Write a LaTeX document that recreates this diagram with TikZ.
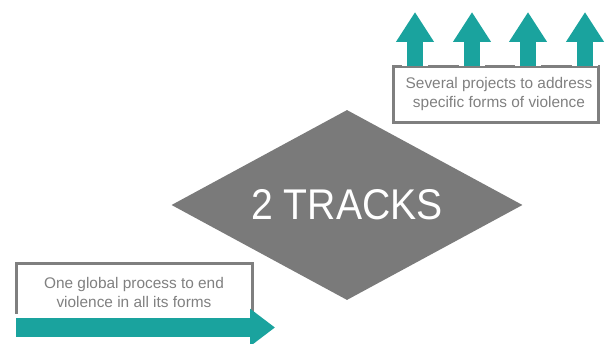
\documentclass[tikz,border=0pt]{standalone}
\usepackage{fontspec}
\setmainfont{Liberation Sans}
\usetikzlibrary{arrows.meta,shapes.geometric}
\definecolor{teal}{HTML}{1AA39E}
\definecolor{boxgray}{HTML}{7F7F7F}
\definecolor{darkgray}{HTML}{7A7A7A}
\definecolor{textgray}{HTML}{808080}
\tikzset{
	track/.style={diamond, fill=darkgray, inner sep=0pt, minimum width=351pt, minimum height=190pt, aspect=1.85},
	label/.style={text=textgray, align=center, font=\fontsize{15.4}{19}\selectfont},
	frame/.style={draw=boxgray, line width=3pt},
	flow/.style={draw=teal, line width=16pt, -{Triangle[width=36pt,length=30pt]}}
}

\begin{document}
\begin{tikzpicture}[x=1pt,y=-1pt]
		\useasboundingbox (0,0) rectangle (610,344);
		\draw (347,205) node [track] (t) {};
		\draw (347,205) node [text=white, font=\fontsize{43}{43}\selectfont] (tt) {\scalebox{0.91}[1]{2 TRACKS}};

		% projects box
		\draw [frame] (393,67) rectangle (598,123);
		\draw (499,94.5) node [label] (p) {Several projects to address\\specific forms of violence};
		\foreach \x/\n in {415/a,472/b,528/c,585/d} {
			\coordinate (\n0) at (\x,66);
			\coordinate (\n1) at (\x,12);
			\draw [white, line width=26pt] (\n0) -- ++(0,-4);
			\draw [flow] (\n0) -- (\n1);
		}

		% global box
		\draw [frame] (16,314) -- (16,264) -- (252,264) -- (252,316);
		\draw (134,292.5) node [label] (g) {One global process to end\\violence in all its forms};
		\coordinate (s) at (16,327.5);
		\coordinate (e) at (275,327.5);
		\draw [flow, line width=19pt, -{Triangle[width=36pt,length=25pt]}] (s) -- (e);
	\end{tikzpicture}
\end{document}
